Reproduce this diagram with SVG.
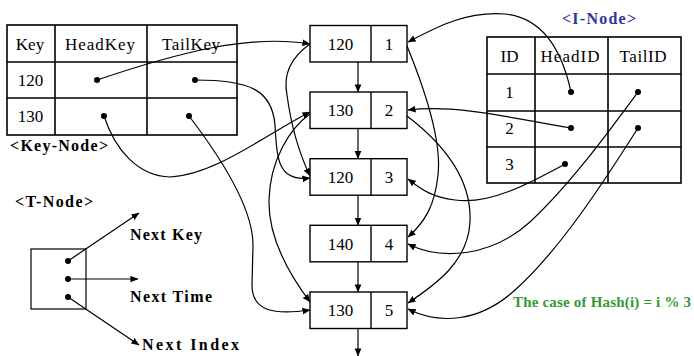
<svg xmlns="http://www.w3.org/2000/svg" width="694" height="356" viewBox="0 0 694 356">
<style>
text{font-family:"Liberation Serif","Times New Roman","DejaVu Serif","Noto Serif",serif;fill:#000}
.cell{font-size:17px;text-anchor:middle}
.num{font-size:17px;text-anchor:middle}
.lbl{font-size:16px;font-weight:bold}
.tbl{fill:#fff;stroke:#000;stroke-width:1.6}
.ln{stroke:#000;stroke-width:1.6;fill:none}
.box{fill:#fff;stroke:#000;stroke-width:1.4}
.con{fill:none;stroke:#000;stroke-width:1.2;marker-end:url(#ah)}
.dot{fill:#000}
</style>
<defs>
<marker id="ah" viewBox="0 0 10 10" refX="9.5" refY="5" markerWidth="8" markerHeight="8" markerUnits="userSpaceOnUse" orient="auto">
<path d="M0,0.8 L10,5 L0,9.2 z" fill="#000"/>
</marker>
</defs>
<rect width="694" height="356" fill="#fff"/>

<g id="key-node">
<rect class="tbl" x="7" y="25" width="230" height="110"/>
<line class="ln" x1="55" y1="25" x2="55" y2="135"/>
<line class="ln" x1="147" y1="25" x2="147" y2="135"/>
<line class="ln" x1="7" y1="62" x2="237" y2="62"/>
<line class="ln" x1="7" y1="98" x2="237" y2="98"/>
<text class="cell" x="30" y="49.5" font-family="Liberation Serif, DejaVu Serif, serif">Key</text>
<text class="cell" x="100" y="49.5" textLength="70">HeadKey</text>
<text class="cell" x="191" y="49.5" textLength="58">TailKey</text>
<text class="num" x="30.5" y="86">120</text>
<text class="num" x="30.5" y="122">130</text>
<circle class="dot" cx="97" cy="80" r="3"/>
<circle class="dot" cx="195" cy="80" r="3"/>
<circle class="dot" cx="104" cy="116" r="3"/>
<circle class="dot" cx="189" cy="116" r="3"/>
<text class="lbl" x="10" y="151" textLength="98">&lt;Key-Node&gt;</text>
</g>

<g id="i-node">
<text class="lbl" x="562" y="24" style="fill:#333399" textLength="74">&lt;I-Node&gt;</text>
<rect class="tbl" x="487" y="37" width="194" height="146"/>
<line class="ln" x1="535" y1="37" x2="535" y2="183"/>
<line class="ln" x1="608" y1="37" x2="608" y2="183"/>
<line class="ln" x1="487" y1="74" x2="681" y2="74"/>
<line class="ln" x1="487" y1="111" x2="681" y2="111"/>
<line class="ln" x1="487" y1="147" x2="681" y2="147"/>
<text class="cell" x="509.5" y="61.5">ID</text>
<text class="cell" x="570" y="61.5" textLength="59">HeadID</text>
<text class="cell" x="643" y="61.5" textLength="47">TailID</text>
<text class="num" x="509.5" y="97.5">1</text>
<text class="num" x="509.5" y="133.5">2</text>
<text class="num" x="509.5" y="169.5">3</text>
<circle class="dot" cx="571" cy="92" r="3"/>
<circle class="dot" cx="638" cy="92" r="3"/>
<circle class="dot" cx="571" cy="128" r="3"/>
<circle class="dot" cx="638" cy="128" r="3"/>
<circle class="dot" cx="565" cy="164" r="3"/>
</g>

<g id="node1">
<rect class="box" x="310" y="25.5" width="97" height="36.5"/>
<line class="ln" x1="371" y1="25.5" x2="371" y2="62" style="stroke-width:1.4"/>
<text class="num" x="340.5" y="49.6">120</text>
<text class="num" x="389" y="49.6">1</text>
</g>
<g id="node2">
<rect class="box" x="310" y="92" width="97" height="36.5"/>
<line class="ln" x1="371" y1="92" x2="371" y2="128.5" style="stroke-width:1.4"/>
<text class="num" x="340.5" y="116.3">130</text>
<text class="num" x="389" y="116.3">2</text>
</g>
<g id="node3">
<rect class="box" x="310" y="158.7" width="97" height="36.5"/>
<line class="ln" x1="371" y1="158.7" x2="371" y2="195.2" style="stroke-width:1.4"/>
<text class="num" x="340.5" y="183">120</text>
<text class="num" x="389" y="183">3</text>
</g>
<g id="node4">
<rect class="box" x="310" y="225.3" width="97" height="36.5"/>
<line class="ln" x1="371" y1="225.3" x2="371" y2="261.8" style="stroke-width:1.4"/>
<text class="num" x="340.5" y="249.6">140</text>
<text class="num" x="389" y="249.6">4</text>
</g>
<g id="node5">
<rect class="box" x="310" y="292" width="97" height="36.5"/>
<line class="ln" x1="371" y1="292" x2="371" y2="328.5" style="stroke-width:1.4"/>
<text class="num" x="340.5" y="316.3">130</text>
<text class="num" x="389" y="316.3">5</text>
</g>

<g id="t-node">
<text class="lbl" x="15" y="207" textLength="78">&lt;T-Node&gt;</text>
<rect class="box" x="31" y="249" width="55" height="60" style="stroke-width:1.2"/>
<circle class="dot" cx="68" cy="261" r="3"/>
<circle class="dot" cx="68" cy="279" r="3"/>
<circle class="dot" cx="68" cy="297" r="3"/>
<text class="lbl" x="130" y="240" textLength="72">Next Key</text>
<text class="lbl" x="130" y="301.5" textLength="82">Next Time</text>
<text class="lbl" x="142" y="350" textLength="97">Next Index</text>
</g>

<text x="513" y="307" style="font-size:15px;font-weight:bold;fill:#339933" textLength="178">The case of Hash(i) = i % 3</text>

<g id="connectors">
<path class="con" d="M358,62 L358,92"/>
<path class="con" d="M358,128.5 L358,158.7"/>
<path class="con" d="M358,195.2 L358,225.3"/>
<path class="con" d="M358,261.8 L358,292"/>
<path class="con" d="M358,328.5 L358,356"/>

<path class="con" d="M97,80 C180,52 250,34 310,44"/>
<path class="con" d="M195,80 C250,80 272,90 275,125 C277,160 278,182 310,178"/>
<path class="con" d="M104,116 C115,150 138,176 170,177 C215,175 265,135 310,112"/>
<path class="con" d="M189,116 C215,150 253,205 253,245 L252,285 C252,312 275,315 310,310"/>
<path class="con" d="M310,44 C290,58 283,75 287,95 C291,125 300,155 310,176"/>
<path class="con" d="M310,114 C290,128 270,160 269,200 C268,240 292,278 310,302"/>

<path class="con" d="M571,92 C563,55 545,18 505,14 C465,11 435,28 408,42"/>
<path class="con" d="M571,128 C520,120 460,104 408,110"/>
<path class="con" d="M565,164 C530,183 490,205 455,200 C430,197 420,188 408,179"/>
<path class="con" d="M638,92 C610,130 570,185 530,222 C490,258 440,260 408,244"/>
<path class="con" d="M638,128 C605,180 560,250 515,290 C480,322 440,325 408,309"/>
<path class="con" d="M407,46 C425,90 442,140 438,175 C435,205 425,222 408,237"/>
<path class="con" d="M407,116 C445,145 472,180 470,222 C468,262 435,285 408,303"/>

<path class="con" d="M68,261 L139,213"/>
<path class="con" d="M68,279 L138,279"/>
<path class="con" d="M68,297 L139,345"/>
</g>
</svg>
